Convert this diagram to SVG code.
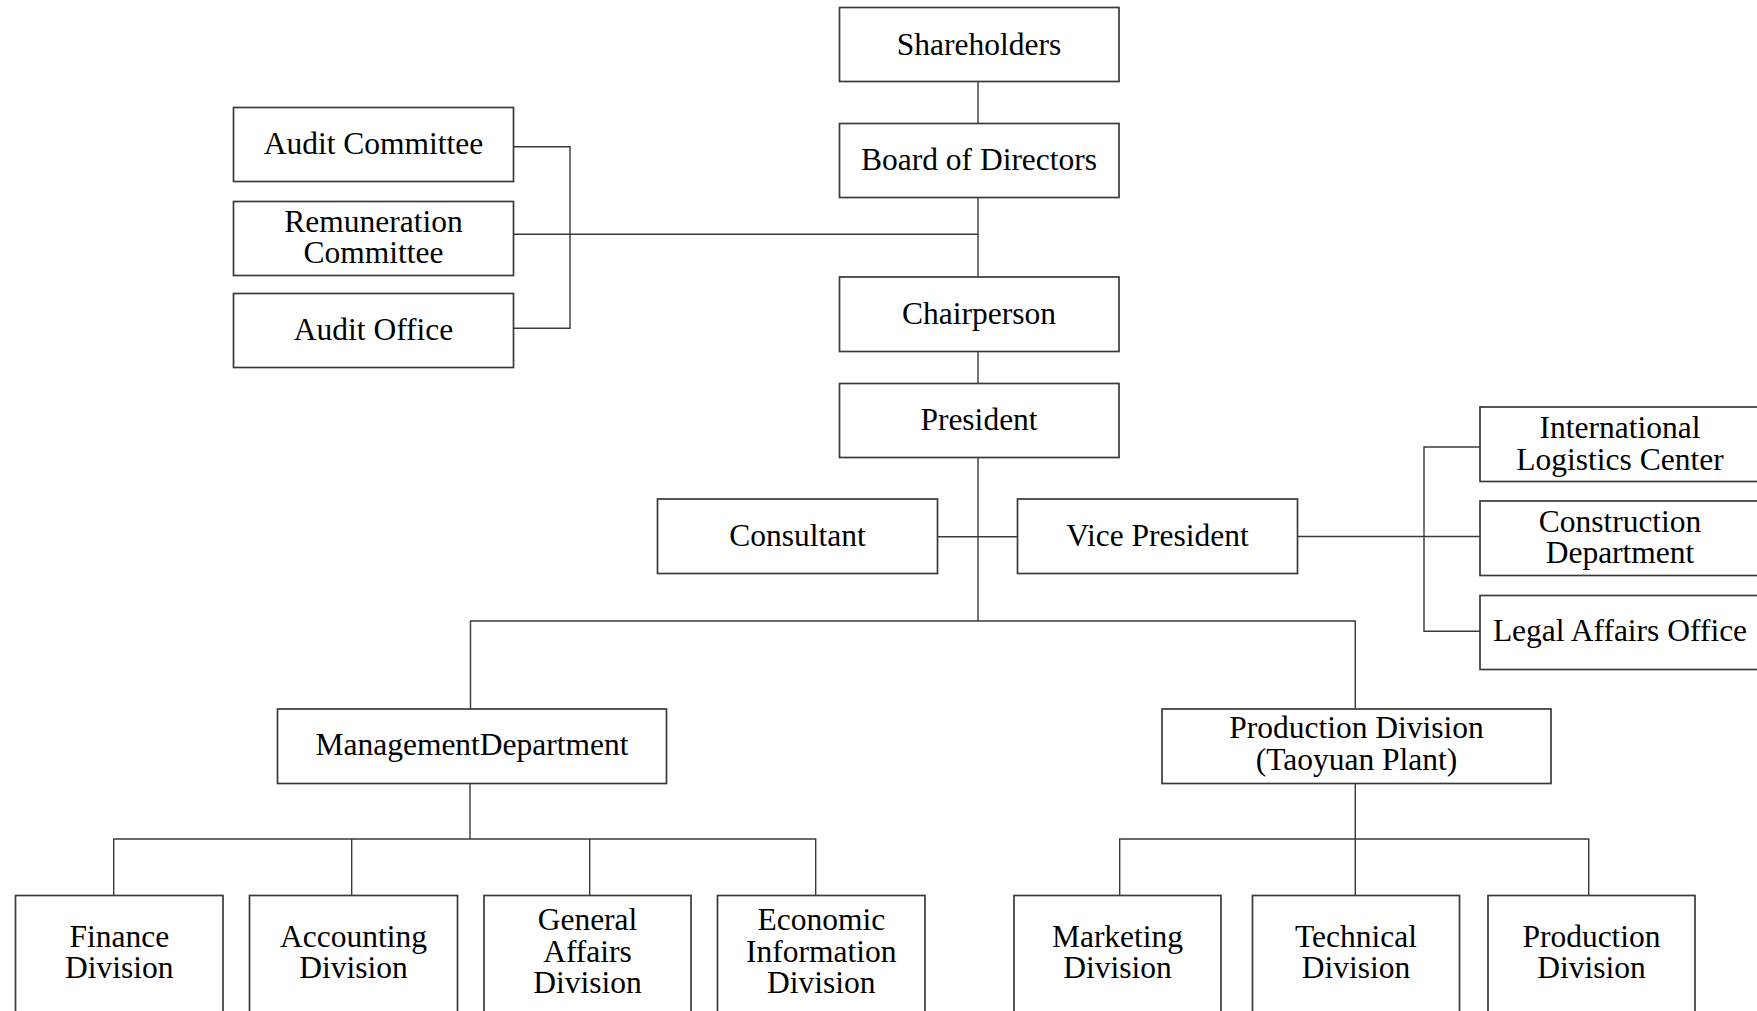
<svg xmlns="http://www.w3.org/2000/svg" width="1757" height="1011" viewBox="0 0 1757 1011">
<style>
.box{fill:#fff;stroke:#3a3a3a;stroke-width:1.7}
.t{font-family:"Liberation Serif","Times New Roman",serif;font-size:31.5px;fill:#000;text-anchor:middle}
.c{fill:none;stroke:#3a3a3a;stroke-width:1.4}
</style>
<rect width="1757" height="1011" fill="#fff"/>
<g id="connectors" class="c">
<path d="M978 81V123.5"/>
<path d="M978 197.5V277"/>
<path d="M513.5 234.3H978"/>
<path d="M513.5 146.7H570V328.3H513.5"/>
<path d="M978 351.5V383.5"/>
<path d="M978 457.5V621"/>
<path d="M937.5 536.7H1017.5"/>
<path d="M1297.5 536.5H1480"/>
<path d="M1480 447H1424V631.3H1480"/>
<path d="M470.5 709V621H1355.3V709"/>
<path d="M470 783.5V839"/>
<path d="M113.7 895.5V839H815.7V895.5"/>
<path d="M351.7 839V895.5"/>
<path d="M589.7 839V895.5"/>
<path d="M1355.3 783.5V895.5"/>
<path d="M1119.7 895.5V839H1588.7V895.5"/>
</g>
<g id="shareholders"><rect class="box" x="839.5" y="7.5" width="279.5" height="74"/><text class="t" x="979" y="54.5">Shareholders</text></g>
<g id="board"><rect class="box" x="839.5" y="123.5" width="279.5" height="74"/><text class="t" x="979" y="170">Board of Directors</text></g>
<g id="chairperson"><rect class="box" x="839.5" y="277" width="279.5" height="74.5"/><text class="t" x="979" y="324">Chairperson</text></g>
<g id="president"><rect class="box" x="839.5" y="383.5" width="279.5" height="74"/><text class="t" x="979" y="430">President</text></g>
<g id="audit-committee"><rect class="box" x="233.5" y="107.5" width="280" height="74"/><text class="t" x="373.5" y="154.3">Audit Committee</text></g>
<g id="remuneration"><rect class="box" x="233.5" y="201.5" width="280" height="74"/><text class="t" x="373.5" y="231.7">Remuneration</text><text class="t" x="373.5" y="263.3">Committee</text></g>
<g id="audit-office"><rect class="box" x="233.5" y="293.5" width="280" height="74"/><text class="t" x="373.5" y="340">Audit Office</text></g>
<g id="consultant"><rect class="box" x="657.5" y="499" width="280" height="74.5"/><text class="t" x="797.5" y="546">Consultant</text></g>
<g id="vice-president"><rect class="box" x="1017.5" y="499" width="280" height="74.5"/><text class="t" x="1157.5" y="546">Vice President</text></g>
<g id="intl-logistics"><rect class="box" x="1480" y="407" width="280" height="74.5"/><text class="t" x="1620" y="437.7">International</text><text class="t" x="1620" y="470">Logistics Center</text></g>
<g id="construction"><rect class="box" x="1480" y="501" width="280" height="74.5"/><text class="t" x="1620" y="531.7">Construction</text><text class="t" x="1620" y="563.3">Department</text></g>
<g id="legal"><rect class="box" x="1480" y="595.5" width="280" height="74"/><text class="t" x="1620" y="640.7">Legal Affairs Office</text></g>
<g id="management"><rect class="box" x="277.5" y="709" width="389" height="74.5"/><text class="t" x="472" y="755">ManagementDepartment</text></g>
<g id="production-plant"><rect class="box" x="1162" y="709" width="389" height="74.5"/><text class="t" x="1356.5" y="738.3">Production Division</text><text class="t" x="1356.5" y="770">(Taoyuan Plant)</text></g>
<g id="finance"><rect class="box" x="15.5" y="895.5" width="207.5" height="140"/><text class="t" x="119.3" y="946.5">Finance</text><text class="t" x="119.3" y="978">Division</text></g>
<g id="accounting"><rect class="box" x="249.5" y="895.5" width="208" height="140"/><text class="t" x="353.5" y="946.5">Accounting</text><text class="t" x="353.5" y="978">Division</text></g>
<g id="general-affairs"><rect class="box" x="484" y="895.5" width="207" height="140"/><text class="t" x="587.5" y="930">General</text><text class="t" x="587.5" y="961.7">Affairs</text><text class="t" x="587.5" y="993.3">Division</text></g>
<g id="economic-info"><rect class="box" x="717.5" y="895.5" width="207.5" height="140"/><text class="t" x="821.3" y="930">Economic</text><text class="t" x="821.3" y="961.7">Information</text><text class="t" x="821.3" y="993.3">Division</text></g>
<g id="marketing"><rect class="box" x="1014" y="895.5" width="207" height="140"/><text class="t" x="1117.5" y="946.5">Marketing</text><text class="t" x="1117.5" y="978">Division</text></g>
<g id="technical"><rect class="box" x="1252.5" y="895.5" width="207" height="140"/><text class="t" x="1356" y="946.5">Technical</text><text class="t" x="1356" y="978">Division</text></g>
<g id="production"><rect class="box" x="1488" y="895.5" width="207" height="140"/><text class="t" x="1591.5" y="946.5">Production</text><text class="t" x="1591.5" y="978">Division</text></g>
</svg>
